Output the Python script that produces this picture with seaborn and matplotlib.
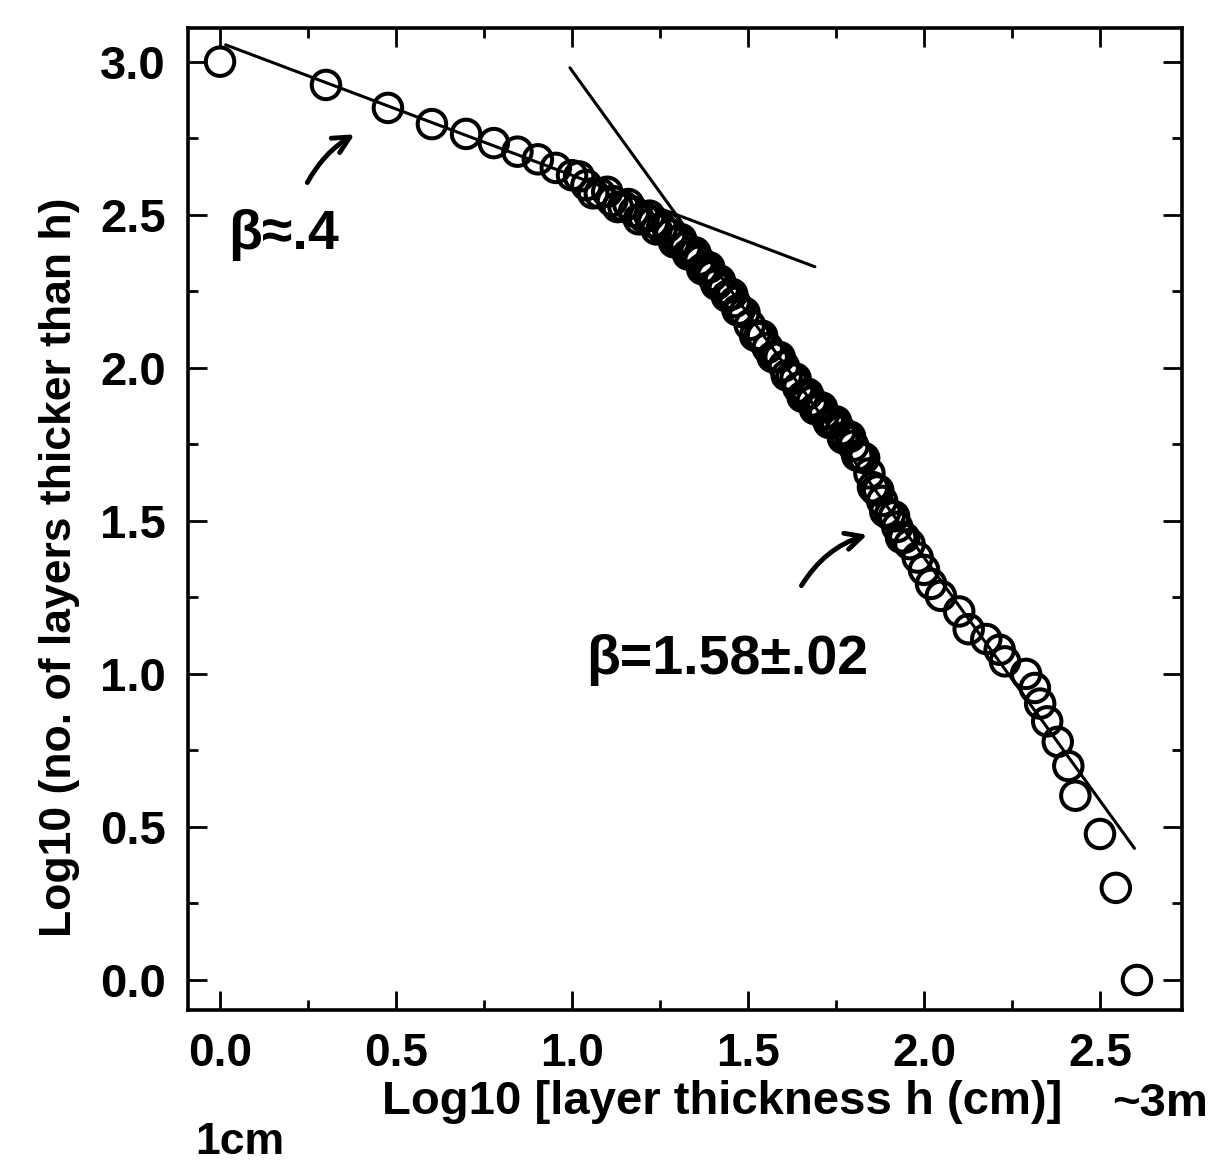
import numpy as np
import pandas as pd
import seaborn as sns
import matplotlib.pyplot as plt
from matplotlib.ticker import MultipleLocator

# log10 layer thickness (cm)
log_h = [0.0, 0.301, 0.477, 0.602, 0.699, 0.778, 0.845, 0.903, 0.954, 1.0,
         1.041, 1.079, 1.114, 1.146, 1.176, 1.204, 1.230, 1.255, 1.279, 1.301,
         1.322, 1.342, 1.362, 1.380, 1.398, 1.415, 1.431, 1.447, 1.462, 1.477,
         1.505, 1.531, 1.556, 1.580, 1.602, 1.623, 1.643, 1.663, 1.681, 1.699,
         1.716, 1.740, 1.763, 1.778, 1.799, 1.820, 1.845, 1.863, 1.881, 1.903,
         1.924, 1.944, 1.959, 1.982, 2.0, 2.02, 2.048, 2.10, 2.127, 2.177,
         2.215, 2.23, 2.29, 2.315, 2.33, 2.35, 2.38, 2.41, 2.43, 2.50,
         2.545, 2.605]
# log10 number of layers thicker than h
log_n = [3.0, 2.924, 2.849, 2.796, 2.764, 2.734, 2.706, 2.681, 2.653, 2.629,
         2.597, 2.570, 2.545, 2.527, 2.510, 2.492, 2.475, 2.456, 2.436, 2.415,
         2.393, 2.372, 2.350, 2.326, 2.300, 2.280, 2.258, 2.238, 2.215, 2.190,
         2.140, 2.100, 2.065, 2.035, 2.005, 1.970, 1.935, 1.910, 1.890, 1.870,
         1.848, 1.822, 1.795, 1.775, 1.745, 1.710, 1.655, 1.600, 1.565, 1.520,
         1.480, 1.445, 1.424, 1.380, 1.340, 1.294, 1.255, 1.204, 1.146, 1.114,
         1.079, 1.041, 1.0, 0.954, 0.903, 0.845, 0.778, 0.699, 0.602, 0.477,
         0.301, 0.0]

# more circles hidden inside the solid black band (1 < x < 2)
band_h = [1.02, 1.06, 1.10, 1.13, 1.16, 1.19, 1.22, 1.24, 1.27, 1.29,
          1.31, 1.33, 1.35, 1.37, 1.39, 1.41, 1.42, 1.44, 1.455, 1.47,
          1.49, 1.52, 1.54, 1.57, 1.59, 1.61, 1.635, 1.655, 1.67, 1.69,
          1.71, 1.73, 1.75, 1.77, 1.79, 1.81, 1.83, 1.855, 1.87, 1.89,
          1.915, 1.935]
band_n = [2.625, 2.57, 2.575, 2.525, 2.535, 2.485, 2.497, 2.452, 2.46, 2.41,
          2.42, 2.37, 2.377, 2.322, 2.328, 2.272, 2.285, 2.233, 2.241, 2.188,
          2.18, 2.105, 2.105, 2.035, 2.035, 1.975, 1.965, 1.905, 1.915, 1.865,
          1.87, 1.82, 1.825, 1.77, 1.775, 1.713, 1.705, 1.61, 1.60, 1.53,
          1.515, 1.445]

# the two hand-drawn power-law fits
fit_small_x = [0.016, 1.69]
fit_small_y = [3.055, 2.33]
fit_large_x = [0.994, 2.598]
fit_large_y = [2.98, 0.43]

df = pd.DataFrame({'log_h': log_h + band_h, 'log_n': log_n + band_n})

sns.set_theme(style='ticks')
plt.rcParams['font.family'] = ['Liberation Sans', 'DejaVu Sans']
for k in ['text.color', 'axes.labelcolor', 'xtick.color', 'ytick.color', 'axes.edgecolor']:
    plt.rcParams[k] = 'black'

W, H = 1220, 1173
fig = plt.figure(figsize=(W / 100, H / 100), dpi=100)
ax = fig.add_axes([188 / W, 1 - 1010 / H, (1182 - 188) / W, (1010 - 28) / H])

sns.lineplot(x=fit_small_x, y=fit_small_y, color='black', lw=2.2, ax=ax)
sns.lineplot(x=fit_large_x, y=fit_large_y, color='black', lw=2.2, ax=ax)
sns.scatterplot(data=df, x='log_h', y='log_n', marker='o', s=420,
                facecolors='none', edgecolors='black', linewidth=2.9, ax=ax)

ax.set_xlim(-0.091, 2.733)
ax.set_ylim(-0.098, 3.11)
ax.xaxis.set_major_locator(MultipleLocator(0.5))
ax.xaxis.set_minor_locator(MultipleLocator(0.25))
ax.yaxis.set_major_locator(MultipleLocator(0.5))
ax.yaxis.set_minor_locator(MultipleLocator(0.25))
ax.xaxis.set_major_formatter(lambda v, p: f'{v:.1f}')
ax.yaxis.set_major_formatter(lambda v, p: f'{v:.1f}')
ax.tick_params(which='both', direction='in', top=True, right=True, width=2, color='black')
ax.tick_params(which='major', length=14)
ax.tick_params(which='minor', length=7)
ax.tick_params(axis='x', labelsize=33, pad=16)
ax.tick_params(axis='y', labelsize=34, pad=16)
for lab in ax.get_xticklabels() + ax.get_yticklabels():
    lab.set_fontweight('bold')
for sp in ax.spines.values():
    sp.set_visible(True)
    sp.set_linewidth(2.6)
    sp.set_color('black')

ax.set_xlabel('Log10 [layer thickness h (cm)]', fontsize=34, fontweight='bold')
ax.set_ylabel('Log10 (no. of layers thicker than h)', fontsize=32, fontweight='bold')
ax.xaxis.set_label_coords((722 - 188) / (1182 - 188), -(1080 - 1010) / (1010 - 28))
ax.yaxis.set_label_coords(-(188 - 80) / (1182 - 188), (1010 - 567) / (1010 - 28))

# handwritten notes on the scan
def fxy(px, py):
    return px / W, 1 - py / H

hand = dict(fontweight='bold', ha='center', va='center', color='black')
fig.text(*fxy(284, 235), 'β≈.4', fontsize=40, **hand)
fig.text(*fxy(727, 660), 'β=1.58±.02', fontsize=40, **hand)
fig.text(*fxy(240, 1143), '1cm', fontsize=32, **hand)
fig.text(*fxy(1160, 1104), '~3m', fontsize=34, **hand)

arrow = dict(arrowstyle='->', lw=3.5, color='black', mutation_scale=30)
ax.annotate('', xy=fxy(357, 133), xytext=fxy(306, 185), xycoords='figure fraction',
            textcoords='figure fraction',
            arrowprops=dict(connectionstyle='arc3,rad=-0.15', **arrow))
ax.annotate('', xy=fxy(870, 534), xytext=fxy(800, 588), xycoords='figure fraction',
            textcoords='figure fraction',
            arrowprops=dict(connectionstyle='arc3,rad=-0.2', **arrow))

fig.savefig('out.png', dpi=100, facecolor='white')
